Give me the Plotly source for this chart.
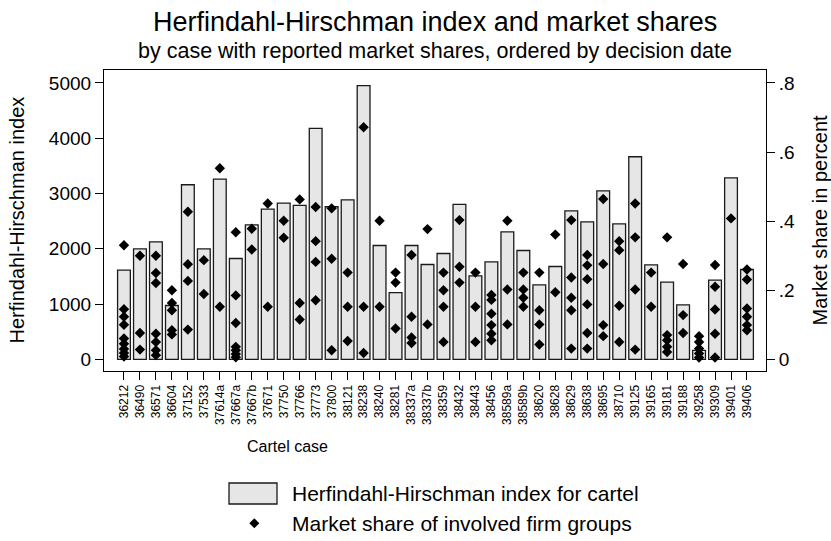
import plotly.graph_objects as go

cases = ["36212", "36490", "36571", "36604", "37152", "37533", "37614a", "37667a",
         "37667b", "37671", "37750", "37766", "37773", "37800", "38121", "38238",
         "38240", "38281", "38337a", "38337b", "38359", "38432", "38443", "38456",
         "38589a", "38589b", "38620", "38628", "38629", "38638", "38695", "38710",
         "39125", "39165", "39181", "39188", "39258", "39309", "39401", "39406"]

hhi = [1612, 1998, 2125, 973, 3158, 1998, 3261, 1824,
       2433, 2717, 2826, 2784, 4179, 2760, 2886, 4952,
       2059, 1208, 2059, 1715, 1914, 2802, 1510, 1763,
       2307, 1969, 1346, 1679, 2687, 2487, 3049, 2451,
       3665, 1708, 1395, 984, 160, 1431, 3284, 1625]

# market shares of the firm groups in each case (same order as cases)
shares = [
    [0.33, 0.145, 0.123, 0.10, 0.06, 0.045, 0.03, 0.018, 0.008],
    [0.30, 0.076, 0.028],
    [0.30, 0.25, 0.221, 0.074, 0.05, 0.026, 0.012],
    [0.20, 0.163, 0.142, 0.084, 0.072],
    [0.427, 0.275, 0.227, 0.086],
    [0.287, 0.189],
    [0.553, 0.152],
    [0.368, 0.185, 0.105, 0.036, 0.026, 0.015, 0.006],
    [0.378, 0.318],
    [0.451, 0.152],
    [0.401, 0.352],
    [0.463, 0.163, 0.115],
    [0.441, 0.342, 0.282, 0.171],
    [0.437, 0.291, 0.026],
    [0.251, 0.152, 0.053],
    [0.672, 0.152, 0.018],
    [0.401, 0.152],
    [0.251, 0.222, 0.089],
    [0.302, 0.123, 0.063, 0.047],
    [0.377, 0.101],
    [0.251, 0.20, 0.152, 0.05],
    [0.403, 0.268, 0.222],
    [0.251, 0.152, 0.05],
    [0.186, 0.172, 0.132, 0.099, 0.074, 0.055],
    [0.401, 0.202, 0.101],
    [0.251, 0.202, 0.178, 0.152],
    [0.251, 0.142, 0.101, 0.043],
    [0.361, 0.194],
    [0.403, 0.237, 0.178, 0.142, 0.031],
    [0.302, 0.272, 0.232, 0.159, 0.076, 0.031],
    [0.464, 0.276, 0.099, 0.067],
    [0.342, 0.316, 0.155, 0.05],
    [0.451, 0.353, 0.202, 0.028],
    [0.251, 0.152],
    [0.353, 0.07, 0.055, 0.036, 0.021],
    [0.276, 0.128, 0.076],
    [0.067, 0.05, 0.031, 0.017, 0.005],
    [0.273, 0.21, 0.144, 0.074, 0.005],
    [0.408],
    [0.26, 0.231, 0.147, 0.123, 0.099, 0.084],
]

left_ticks = [0, 1000, 2000, 3000, 4000, 5000]
right_ticks = [0, 0.2, 0.4, 0.6, 0.8]
right_labels = ["0", ".2", ".4", ".6", ".8"]

W, H = 831, 541
L, R, T, B = 104, 65, 70, 170
FONT = "Arial, Liberation Sans, sans-serif"


def px(x):
    return (x - L) / (W - L - R)


def py(y):
    return (H - B - y) / (H - T - B)


share_x = [c for c, s in zip(cases, shares) for _ in s]
share_y = [v for s in shares for v in s]

fig = go.Figure()
fig.add_trace(go.Bar(
    x=cases, y=hhi, width=0.8,
    marker=dict(color="#e6e6e6", line=dict(color="#1a1a1a", width=1.3)),
    showlegend=False,
))
fig.add_trace(go.Scatter(
    x=share_x, y=share_y, yaxis="y2", mode="markers",
    marker=dict(symbol="diamond", size=8, color="black"),
    showlegend=False,
))

fig.update_layout(
    width=W, height=H,
    margin=dict(l=L, r=R, t=T, b=B),
    plot_bgcolor="white", paper_bgcolor="white",
    font=dict(family=FONT, color="black"),
    xaxis=dict(
        type="category", range=[-1.25, 40.19],
        showline=True, linecolor="black", linewidth=1.2, mirror=True,
        ticks="outside", ticklen=8, tickcolor="black",
        tickangle=-90, tickfont=dict(size=12),
        showgrid=False,
    ),
    yaxis=dict(
        range=[-212, 5235],
        tickvals=left_ticks,
        showline=True, linecolor="black", linewidth=1.2, mirror=True,
        ticks="outside", ticklen=8, tickcolor="black",
        tickfont=dict(size=19), showgrid=False, zeroline=False,
    ),
    yaxis2=dict(
        overlaying="y", side="right",
        range=[-0.0339, 0.8376],
        tickvals=right_ticks, ticktext=right_labels,
        ticks="outside", ticklen=8, tickcolor="black",
        tickfont=dict(size=19), showgrid=False, zeroline=False,
    ),
)

annotations = [
    dict(text="Herfindahl-Hirschman index and market shares", x=0.5, y=py(22),
         font=dict(size=27)),
    dict(text="by case with reported market shares, ordered by decision date",
         x=0.5, y=py(51), font=dict(size=21.5)),
    dict(text="Herfindahl-Hirschman index", x=px(16), y=0.5, textangle=-90,
         font=dict(size=20)),
    dict(text="Market share in percent", x=px(819), y=0.5, textangle=-90,
         font=dict(size=20)),
    dict(text="Cartel case", x=px(287), y=py(447), font=dict(size=16)),
    dict(text="Herfindahl-Hirschman index for cartel", x=px(290), y=py(493),
         xanchor="left", font=dict(size=21)),
    dict(text="Market share of involved firm groups", x=px(290), y=py(523),
         xanchor="left", font=dict(size=21)),
]
for a in annotations:
    a.setdefault("xanchor", "center")
    fig.add_annotation(xref="paper", yref="paper", yanchor="middle",
                       showarrow=False, **a)

# hand-drawn legend keys
fig.add_shape(type="rect", xref="paper", yref="paper",
              x0=px(229), x1=px(277), y0=py(504), y1=py(483),
              fillcolor="#e6e6e6", line=dict(color="#1a1a1a", width=1.3))
cx, cy, r = 254.3, 523.3, 5
diamond = "M {} {} L {} {} L {} {} L {} {} Z".format(
    px(cx), py(cy - r), px(cx + r), py(cy), px(cx), py(cy + r), px(cx - r), py(cy))
fig.add_shape(type="path", xref="paper", yref="paper", path=diamond,
              fillcolor="black", line=dict(color="black", width=0))

# the page's default body margin would push the figure 8px right and down
fig.write_html("out.html", config={"displayModeBar": False},
               post_script="document.body.style.margin = '0';")
